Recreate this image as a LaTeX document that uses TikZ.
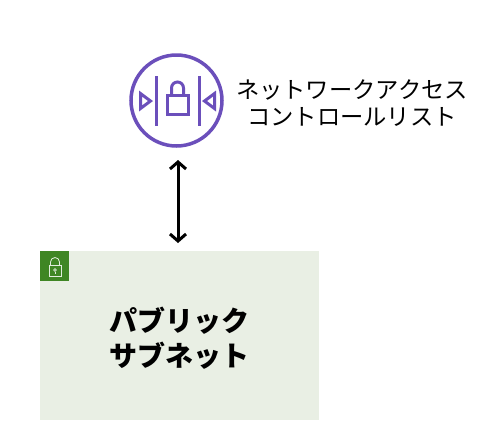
\documentclass[tikz,border=0pt]{standalone}
\usepackage{xcolor}
\usepackage{fontspec}
\usepackage{tikz}
\usetikzlibrary{arrows.meta}
\newfontfamily\jpfont{Noto Sans CJK JP}
\definecolor{aclpurple}{HTML}{6B4FBB}
\definecolor{subnetfill}{HTML}{E9EFE4}
\definecolor{subnetgreen}{HTML}{3F8624}
\tikzset{
  icon/.style={draw=aclpurple, line width=3pt},
  badge/.style={draw=white!85!subnetgreen, line width=0.8pt},
}
\begin{document}
\begin{tikzpicture}[x=1pt, y=-1pt]
  \useasboundingbox (0,0) rectangle (479,445);

  % Subnet box
  \node [fill=subnetfill, minimum width=279pt, minimum height=169pt, inner sep=0pt] (subnet) at (179.5,335.5) {};
  \node [align=center, inner sep=0pt, font=\jpfont\bfseries\fontsize{28}{35}\selectfont] (subnetlabel) at (179,338) {パブリック\\サブネット};
  \node [fill=subnetgreen, minimum width=29pt, minimum height=30pt, inner sep=0pt] (badge) at (54.5,266) {};

  % Lock on the badge
  \draw [badge] (49,265.5) rectangle (61,276.5);
  \draw [badge] (50.5,265.5) -- (50.5,262) arc (180:360:4.5) -- (59.5,265.5);
  \draw [badge] (55,270) circle (1.4);
  \draw [badge] (55,271.5) -- (55,274);

  % ACL icon
  \node [circle, icon, line width=3.5pt, minimum size=91pt, inner sep=0pt] (acl) at (176.5,100.5) {};
  \draw [icon] (156,76) -- (156,126);
  \draw [icon] (199,76) -- (199,126);
  \draw [icon] (167,95) rectangle (188,114.5);
  \draw [icon] (171.5,95) -- (171.5,88) arc (180:360:6) -- (183.5,95);
  \draw [icon, line join=miter] (140.5,93.5) -- (150.5,101) -- (140.5,108.5) -- cycle;
  \draw [icon, line join=miter] (214.5,93.5) -- (204.5,101) -- (214.5,108.5) -- cycle;

  % Label
  \node [align=center, font=\jpfont\fontsize{23.3}{27}\selectfont, inner sep=0pt] (acllabel) at (352,103) {ネットワークアクセス\\コントロールリスト};

  % Arrow
  \coordinate (arrowtop) at (178,160);
  \coordinate (arrowbot) at (178,243);
  \draw [{Straight Barb[length=7pt,width=16pt]}-{Straight Barb[length=7pt,width=16pt]}, line width=3pt] (arrowtop) -- (arrowbot);
\end{tikzpicture}
\end{document}
